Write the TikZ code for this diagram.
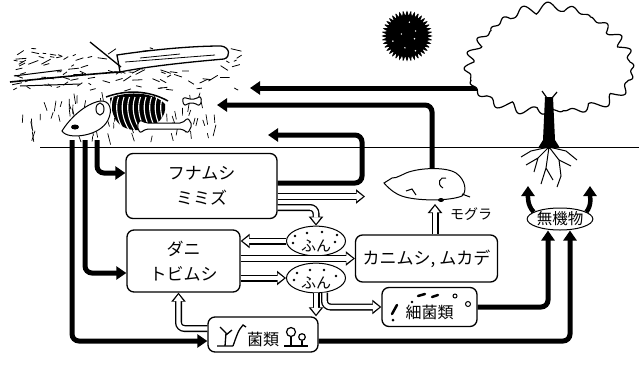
\documentclass[tikz,border=0pt]{standalone}
\usepackage{fontspec}
\newfontfamily\jp{Noto Sans CJK JP}
\usetikzlibrary{arrows.meta,shapes.geometric}

\begin{document}
\begin{tikzpicture}[x=1pt, y=-1pt,
  box/.style={draw, line width=1.3pt, rounded corners=7pt, align=center, font=\jp\fontsize{17}{19}\selectfont},
  dung/.style={draw, ellipse, line width=1pt, inner sep=0pt, minimum width=59pt, minimum height=24pt, text height=21pt, text depth=0pt, font=\jp\fontsize{15}{17}\selectfont},
  bigarrow/.style={line width=5pt, rounded corners=7pt, -{Triangle[length=10pt, width=13pt]}},
  hollowarrow/.style={line width=7pt, rounded corners=6pt, -{Triangle[length=9pt, width=14pt]},
    postaction={draw=white, line width=4.4pt, shorten >=1.9pt, -{Triangle[length=6.5pt, width=9.4pt]}}}]

\useasboundingbox (0,0) rectangle (639,370);

% ground
\draw[line width=1pt] (40,147) -- (639,147);

% litter on the ground
\pgfmathsetseed{11}
\foreach \i in {1,...,110}{
  \pgfmathsetmacro\xa{12+228*rnd}
  \pgfmathsetmacro\ya{48+42*rnd}
  \pgfmathsetmacro\an{-35+70*rnd+180*round(rnd)}
  \pgfmathsetmacro\len{3+8*rnd}
  \draw[line width=0.8pt] (\xa,\ya) -- ++(\an:\len);
}
\foreach \i in {1,...,70}{
  \pgfmathsetmacro\xa{18+200*rnd}
  \pgfmathsetmacro\ya{92+44*rnd}
  \pgfmathsetmacro\an{70+40*rnd}
  \pgfmathsetmacro\len{5+7*rnd}
  \draw[line width=0.7pt] (\xa,\ya) -- ++(\an:\len);
}
\draw[line width=1.3pt, fill=white] (117,55) .. controls (150,50) and (190,46) .. (221,46)
  .. controls (230,47) and (231,57) .. (224,59) .. controls (190,62) and (150,66) .. (120,72) -- cycle;
\draw[line width=0.8pt] (125,62) -- (215,55) (140,58) -- (180,54);
\draw[line width=1.3pt] (90,42) -- (121,67);
\draw[line width=1.6pt] (10,82) .. controls (50,78) and (90,74) .. (120,72);
\draw[line width=1pt] (14,76) -- (62,70) (20,86) -- (80,84);

% skeleton
\fill (110,98) .. controls (130,90) and (155,93) .. (165,104) .. controls (167,116) and (158,127) .. (140,130)
  .. controls (122,131) and (112,123) .. (110,98) -- cycle;
\foreach \i in {0,...,9}
  \draw[white, line width=1.1pt] (113+5.5*\i,97) .. controls (109+5.5*\i,108) and (112+5.5*\i,120) .. (118+5.5*\i,130);
\draw[line width=1.5pt] (106,97) .. controls (128,89) and (150,91) .. (168,101);
\draw[line width=1pt, fill=white] (62,131) .. controls (70,118) and (85,104) .. (100,101)
  .. controls (110,100) and (113,110) .. (108,120) .. controls (104,128) and (95,133) .. (85,135)
  .. controls (75,137) and (65,136) .. (62,131) -- cycle;
\draw[line width=1pt] (100,109) ellipse (4 and 6);
\fill (75,127) ellipse (4 and 2.5);
\draw[line width=1pt, fill=white, rounded corners=2pt] (140,120) -- (146,123) -- (182,123) -- (188,118)
  -- (192,125) -- (188,133) -- (182,129) -- (146,129) -- (140,133) -- (137,126) -- cycle;
\draw[line width=1pt, fill=white, rounded corners=2pt] (184,97) -- (188,99) -- (196,99) -- (200,96)
  -- (202,101) -- (199,106) -- (195,103) -- (188,103) -- (185,106) -- (182,101) -- cycle;

% sun
\coordinate (sun) at (407,36);
\fill[shift={(sun)}] plot[domain=0:360, samples=181] (\x:{23+2.5*cos(40*\x)}) -- cycle;
\foreach \a/\r in {20/8, 100/12, 200/6, 280/14, 330/10, 160/15, 60/17}
  \fill[white] ([shift={(\a:\r)}]sun) circle (0.8);

% boxes
\node[box, minimum width=151pt, minimum height=65pt] (funa) at (201.5,186) {フナムシ\\[6pt]ミミズ};
\node[box, minimum width=113pt, minimum height=62pt] (dani) at (183.5,261) {ダニ\\[6pt]トビムシ};
\node[box, minimum width=142pt, minimum height=47pt] (kani) at (426.5,258.5) {カニムシ, ムカデ};
\node[box, minimum width=110pt, minimum height=35pt, text height=22pt, text depth=0pt,
  font=\jp\fontsize{16}{18}\selectfont] (kin) at (263,334.5) {菌類};
\node[box, minimum width=95pt, minimum height=39pt, text height=22pt, text depth=0pt,
  font=\jp\fontsize{16}{18}\selectfont] (saikin) at (429.5,307) {細菌類};
\node[dung] (fun1) at (316,241) {ふん};
\node[dung, minimum height=22pt] (fun2) at (316,278) {ふん};
\node[draw, ellipse, line width=1pt, inner sep=0pt, minimum width=64pt, minimum height=22pt,
  font=\jp\fontsize{15.5}{17}\selectfont] (muki) at (560,219) {無機物};
\node[font=\jp\fontsize{14}{16}\selectfont] (mogura) at (471,214) {モグラ};

% dots in the dung
\foreach \dx/\dy in {-21/5, -23/-2, -9/8, 6/9, 21/6, 19/-1}
  \fill ([xshift=\dx pt, yshift=\dy pt]fun1.center) circle (1.4);
\foreach \dx/\dy in {-19/5, -22/-2, -6/8, 8/8, 20/2}
  \fill ([xshift=\dx pt, yshift=\dy pt]fun2.center) circle (1.4);

% fungi and bacteria
\draw[line width=1.3pt] (217,346) -- (233,346) (225,346) -- (226,333) -- (220,327) (226,335) -- (232,330);
\draw[line width=1.3pt] (233,346) .. controls (236,338) and (238,330) .. (243,325) -- (246,327);
\draw[line width=1.3pt] (284,346) -- (308,346) (291,346) -- (291,337) (302,346) -- (302,341);
\draw[line width=1.2pt] (291,332) circle (4.5) (302,337) circle (3.3);
\draw[line width=2.5pt, line cap=round] (392,314) -- (397,305) (418,296) -- (425,294) (432,297) -- (438,295);
\fill (393,320) circle (1.5) (412,302) circle (1.3);
\draw[line width=1pt] (455,296) circle (2) (468,304) circle (2.5);

% tree
\coordinate (canopyL) at (490,88);
\coordinate (litterA) at (250,88);
\draw[bigarrow] (canopyL) -- (litterA);
\draw[line width=1.2pt, fill=white] plot[domain=0:360, samples=361]
  ({550+(78+5*abs(sin(9*\x))+3*sin(23*\x+40)+4*sin(3*\x))*cos(\x)},
   {62+(49+5*abs(sin(9*\x))+3*sin(23*\x+40)+3*sin(3*\x))*sin(\x)}) -- cycle;
\fill (545,97) -- (553,97) -- (555,140) -- (560,148) -- (538,148) -- (543,140) -- cycle;
\draw[line width=1.2pt] (547,98) -- (542,91) (552,98) -- (557,92);
\draw[line width=1pt] (549,147) -- (538,158) -- (526,165) (538,158) -- (534,172)
  (549,147) -- (546,168) -- (541,184) (546,168) -- (553,180)
  (549,147) -- (559,160) -- (571,166) (559,160) -- (561,176) -- (557,187)
  (549,147) -- (531,151) -- (521,157) (549,147) -- (566,151) -- (577,160);

% mole
\coordinate (moleTop) at (432,172);
\coordinate (litterB) at (217,105);
\draw[bigarrow] (moleTop) |- (litterB);
\draw[line width=1pt, fill=white] (384,183) -- (392,178) .. controls (398,178) and (400,175) .. (404,174)
  .. controls (415,168) and (445,166) .. (456,173) .. controls (466,180) and (467,192) .. (462,196)
  .. controls (450,201) and (420,201) .. (405,197) .. controls (397,195) and (390,190) .. (384,183) -- cycle;
\draw[line width=1pt] (462,194) -- (470,197) (443,188) .. controls (436,184) and (440,176) .. (446,178);
\draw[line width=1pt] (406,191) -- (412,189) -- (416,195);
\fill (441,200) ellipse (3 and 2);

% thick arrows
\coordinate (loopC) at (362,135);
\coordinate (litterC) at (268,135);
\coordinate (sk1) at (97,140);
\coordinate (sk2) at (85,140);
\coordinate (sk3) at (72,140);
\coordinate (rootL) at (528,186);
\coordinate (rootR) at (590,186);
\draw[bigarrow] ([yshift=3pt]funa.east) -| (loopC) -- (litterC);
\draw[bigarrow] (sk1) |- ([yshift=13pt]funa.west);
\draw[bigarrow] (sk2) |- ([yshift=-12pt]dani.west);
\draw[bigarrow] (sk3) |- ([yshift=-6.5pt]kin.west);
\draw[bigarrow] ([yshift=-6.5pt]kin.east) -| ([xshift=10pt]muki.south);
\draw[bigarrow] (saikin.east) -| ([xshift=-12pt]muki.south);
\draw[bigarrow, line width=4.5pt] (muki.165) .. controls (527,205) and (528,196) .. (rootL);
\draw[bigarrow, line width=4.5pt] (muki.15) .. controls (592,205) and (590,196) .. (rootR);

% hollow arrows
\coordinate (moleL) at (365,196.5);
\coordinate (moleB) at (435,204);
\draw[hollowarrow] ([yshift=-10.5pt]funa.east) -- (moleL);
\draw[hollowarrow] ([yshift=-21.5pt]funa.east) -| (fun1.north);
\draw[hollowarrow] (fun1.west) -- (fun1.west -| dani.east);
\draw[hollowarrow] (kani.west -| dani.east) -- (kani.west);
\draw[hollowarrow] (fun2.west -| dani.east) -- (fun2.west);
\draw[hollowarrow] (fun2.south) -- (fun2.south |- kin.north);
\draw[hollowarrow] (fun2.-60) |- (saikin.west);
\draw[hollowarrow] ([yshift=6pt]kin.west) -| ([xshift=-5pt]dani.south);
\draw[hollowarrow] ([xshift=8.5pt]kani.north) -- (moleB);

\end{tikzpicture}
\end{document}
